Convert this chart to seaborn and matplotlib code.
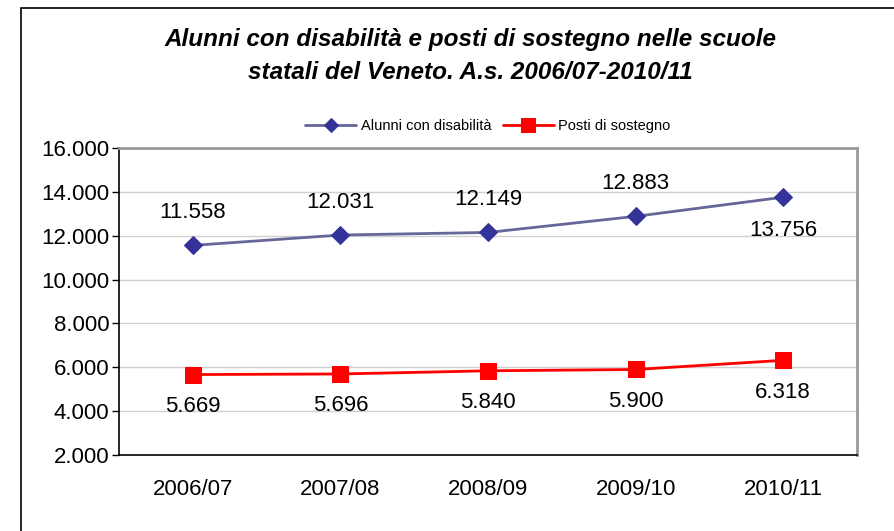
import pandas as pd
import seaborn as sns
import matplotlib.pyplot as plt
from matplotlib.ticker import FuncFormatter

anni = ['2006/07', '2007/08', '2008/09', '2009/10', '2010/11']
alunni = [11558, 12031, 12149, 12883, 13756]
posti = [5669, 5696, 5840, 5900, 6318]
serie = ['Alunni con disabilità', 'Posti di sostegno']
yticks = [2000, 4000, 6000, 8000, 10000, 12000, 14000, 16000]

df = pd.DataFrame({
    'anno': anni * 2,
    'valore': alunni + posti,
    'serie': [serie[0]] * 5 + [serie[1]] * 5,
})

sns.set_theme(style='white')
plt.rcParams['font.family'] = ['Liberation Sans', 'DejaVu Sans']
plt.rcParams['text.color'] = 'black'
plt.rcParams['xtick.color'] = 'black'
plt.rcParams['ytick.color'] = 'black'

fig = plt.figure(figsize=(8.94, 5.31), dpi=100)
ax = fig.add_axes([0.1331, 0.1431, 0.8255, 0.5782])

# cornice esterna come nell'area grafico di excel
fig.patches.append(plt.Rectangle((0.023, -0.05), 1.2, 1.035, transform=fig.transFigure,
                                 fill=False, edgecolor='black', linewidth=1.2))

sns.lineplot(data=df[df.serie == serie[0]], x='anno', y='valore', ax=ax,
             color='#666699', linewidth=2, marker='D', markersize=9,
             markerfacecolor='#333399', markeredgecolor='#333399', label=serie[0])
sns.lineplot(data=df[df.serie == serie[1]], x='anno', y='valore', ax=ax,
             color='#FF0000', linewidth=2, marker='s', markersize=12,
             markerfacecolor='#FF0000', markeredgecolor='#FF0000', label=serie[1])

fmt = lambda v: f'{int(v):,}'.replace(',', '.')

for i, v in enumerate(alunni):
    off = -1500 if i == len(alunni) - 1 else 1500
    ax.text(i, v + off, fmt(v), ha='center', va='center', fontsize=16)
for i, v in enumerate(posti):
    ax.text(i, v - 1450, fmt(v), ha='center', va='center', fontsize=16)

ax.set_xlim(-0.5, 4.5)
ax.set_ylim(2000, 16000)
ax.set_yticks(yticks)
ax.yaxis.set_major_formatter(FuncFormatter(lambda v, p: fmt(v)))
ax.grid(axis='y', color='#d0d0d0', linewidth=1)
ax.set_axisbelow(True)
ax.set_xlabel('')
ax.set_ylabel('')
ax.tick_params(axis='y', labelsize=16, length=5, width=1, direction='out', left=True, pad=2)
ax.tick_params(axis='x', labelsize=16, length=0, pad=17)

for s in ['left', 'bottom']:
    ax.spines[s].set_color('black')
    ax.spines[s].set_linewidth(1.2)
for s in ['top', 'right']:
    ax.spines[s].set_color('#999999')
    ax.spines[s].set_linewidth(2)

ax.legend(loc='lower center', bbox_to_anchor=(0.5, 1.0), ncol=2, frameon=False,
          fontsize=10.5, handlelength=3.5, columnspacing=0.8, handletextpad=0.3,
          markerscale=0.8, borderaxespad=0.6)

fig.text(0.526, 0.894, 'Alunni con disabilità e posti di sostegno nelle scuole\nstatali del Veneto. A.s. 2006/07-2010/11',
         ha='center', va='center', fontsize=17.5, fontweight='bold', fontstyle='italic',
         linespacing=1.55)

fig.savefig('out.png', dpi=100)
